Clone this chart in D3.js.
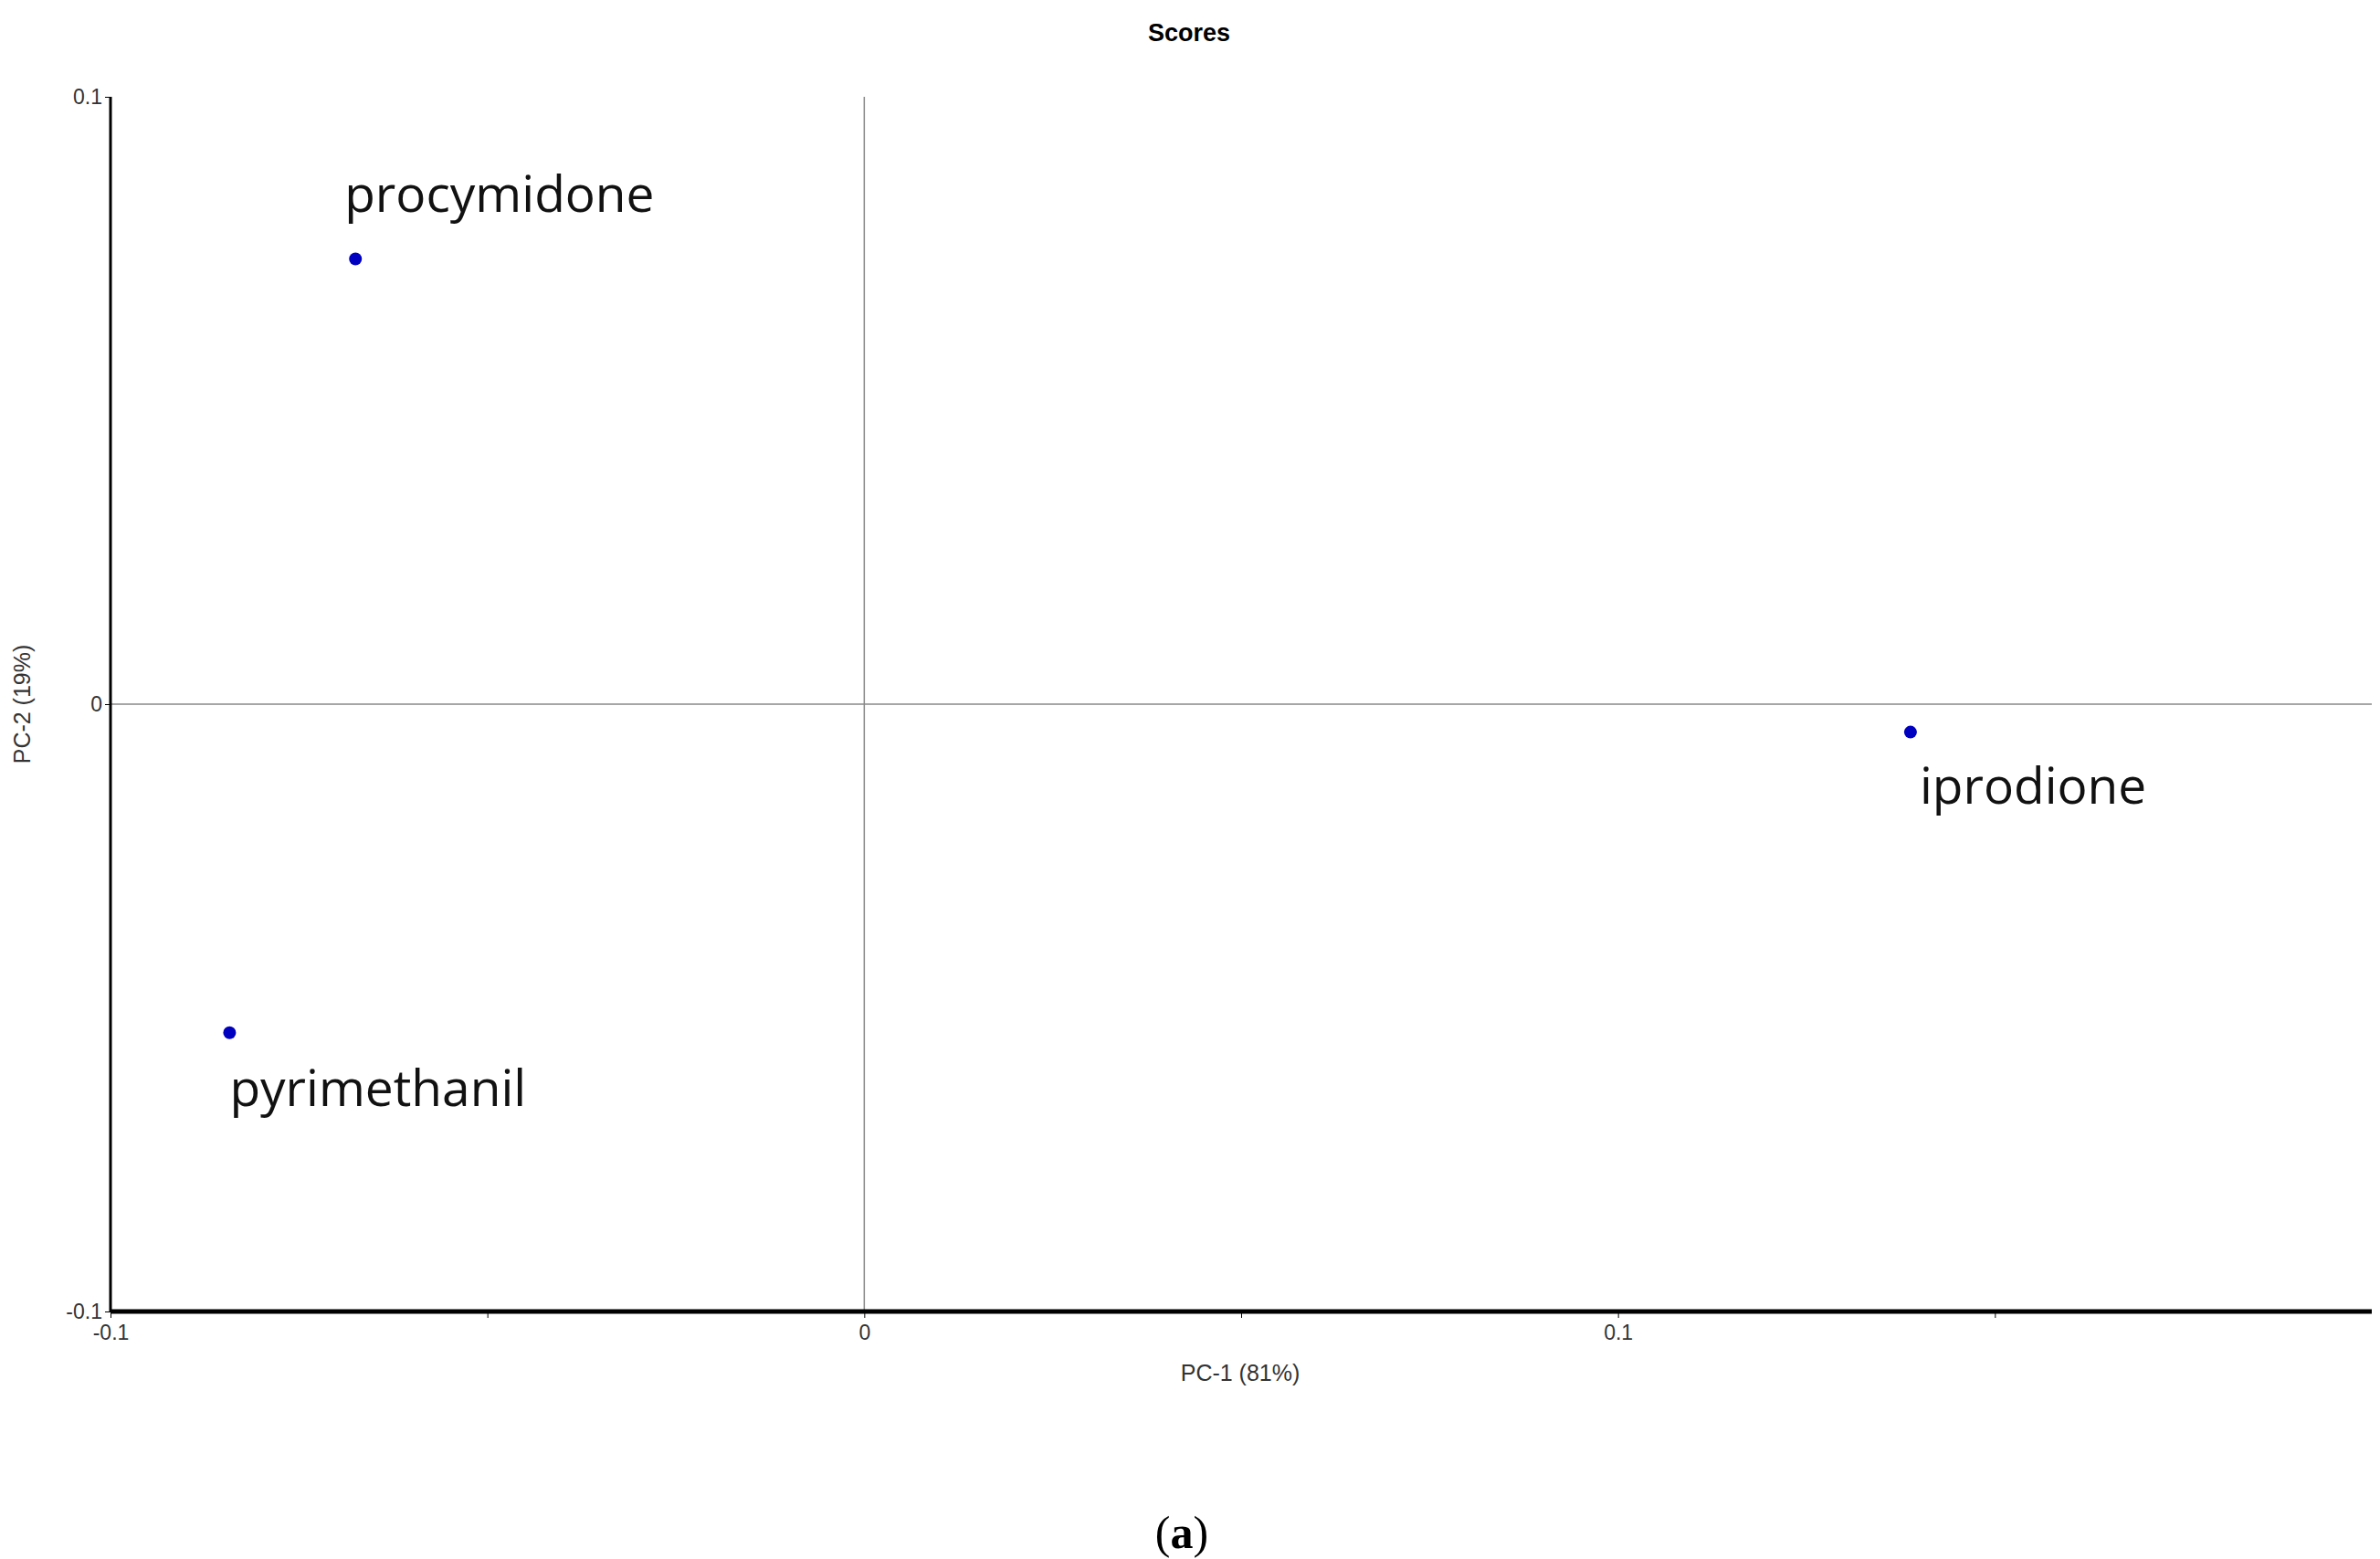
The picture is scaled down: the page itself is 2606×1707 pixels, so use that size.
<!DOCTYPE html>
<html>
<head>
<meta charset="utf-8">
<script src="https://cdn.jsdelivr.net/npm/d3@7"></script>
<style>
body { margin: 0; background: #fff; }
text { font-family: "Liberation Sans", Arial, sans-serif; }
</style>
</head>
<body>
<div id="chart"></div>
<script>
// scores
let names = ["procymidone", "pyrimethanil", "iprodione"];
let pc1 = [-0.0675, -0.0842, 0.1388];
let pc2 = [0.0733, -0.0541, -0.0046];
// label offsets (px) relative to each point
let labelDx = [-12, 0, 10];
let labelDy = [-52, 80, 78];
let xTicks = [-0.1, 0, 0.1];
let xMinor = [-0.05, 0.05, 0.15];
let yTicks = [-0.1, 0, 0.1];

let width = 2606, height = 1707;
let mLeft = 121, mRight = 2597, mTop = 106, mBottom = 1436;

let svg = d3.select("#chart").append("svg")
    .attr("width", width).attr("height", height);

let x = d3.scaleLinear().domain([-0.1, 0.2]).range([mLeft, mRight]);
let y = d3.scaleLinear().domain([-0.1, 0.1]).range([mBottom, mTop]);

// zero lines
svg.append("line").attr("x1", x(0)).attr("x2", x(0)).attr("y1", mTop).attr("y2", mBottom)
    .attr("stroke", "#888").attr("stroke-width", 1.5);
svg.append("line").attr("x1", mLeft).attr("x2", mRight).attr("y1", y(0)).attr("y2", y(0))
    .attr("stroke", "#888").attr("stroke-width", 1.5);

let fmt = d => d === 0 ? "0" : d3.format(".1f")(d).replace("−", "-");

// x axis
let xa = svg.append("g").attr("transform", `translate(0,${mBottom})`)
    .call(d3.axisBottom(x).tickValues(xTicks).tickSize(7).tickFormat(fmt));
svg.append("g").attr("transform", `translate(0,${mBottom})`)
    .call(d3.axisBottom(x).tickValues(xMinor).tickSize(7).tickFormat(""))
    .select(".domain").remove();
xa.select(".domain").attr("stroke-width", 5).attr("d", `M${mLeft},0H${mRight}`);
xa.selectAll("text").attr("font-size", 23).attr("fill", "#333").attr("dy", "0.9em");

// y axis
let ya = svg.append("g").attr("transform", `translate(${mLeft},0)`)
    .call(d3.axisLeft(y).tickValues(yTicks).tickSize(6).tickFormat(fmt));
ya.select(".domain").attr("stroke-width", 3).attr("d", `M0,${mTop}V${mBottom}`);
ya.selectAll("text").attr("font-size", 23).attr("fill", "#333");

// titles
svg.append("text").attr("x", 1302).attr("y", 45).attr("text-anchor", "middle")
    .attr("font-size", 27).attr("font-weight", "bold").text("Scores");
svg.append("text").attr("x", 1358).attr("y", 1512).attr("text-anchor", "middle")
    .attr("font-size", 25).attr("fill", "#333").text("PC-1 (81%)");
svg.append("text").attr("transform", `translate(33,${y(0)}) rotate(-90)`).attr("text-anchor", "middle")
    .attr("font-size", 25).attr("fill", "#333").text("PC-2 (19%)");
let cap = svg.append("text").attr("x", 1294).attr("y", 1695).attr("text-anchor", "middle")
    .style("font-family", "Liberation Serif").attr("font-size", 50);
cap.append("tspan").text("(");
cap.append("tspan").attr("font-weight", "bold").text("a");
cap.append("tspan").text(")");

// points
let data = names.map((n, i) => ({ name: n, x: pc1[i], y: pc2[i], dx: labelDx[i], dy: labelDy[i] }));
svg.selectAll("circle.pt").data(data).enter().append("circle")
    .attr("cx", d => x(d.x)).attr("cy", d => y(d.y)).attr("r", 7).attr("fill", "#0000c0");
svg.selectAll("text.lbl").data(data).enter().append("text")
    .attr("x", d => x(d.x) + d.dx).attr("y", d => y(d.y) + d.dy)
    .style("font-family", "Open Sans").attr("font-size", 55).attr("fill", "#111")
    .text(d => d.name);
</script>
</body>
</html>
